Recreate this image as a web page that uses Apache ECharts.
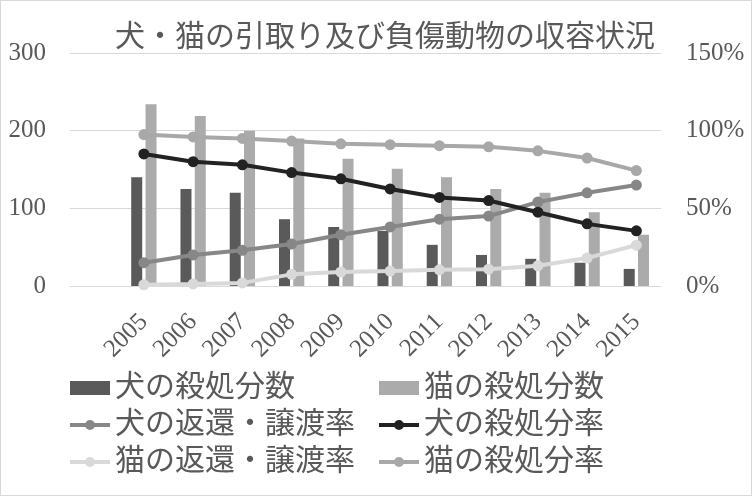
<!DOCTYPE html>
<html>
<head>
<meta charset="utf-8">
<script src="https://cdn.jsdelivr.net/npm/echarts@6/dist/echarts.min.js"></script>
<style>
html,body{margin:0;padding:0;background:#fff;}
#main{width:752px;height:496px;box-sizing:border-box;border:1px solid #d9d9d9;}
</style>
</head>
<body>
<div id="main"></div>
<script>
// 先頭の空カテゴリは元図の左余白ぶん
var years = ['', '2005', '2006', '2007', '2008', '2009', '2010', '2011', '2012', '2013', '2014', '2015'];
var dogKilled = [null, 140, 125, 120, 86, 76, 71, 53, 40, 35, 30, 22];
var catKilled = [null, 234, 219, 200, 190, 164, 151, 140, 125, 120, 95, 66];
var dogReturnRate = [null, 15, 20, 23, 27, 33, 38, 43, 45, 54, 60, 65];
var dogKillRate = [null, 85, 80, 78, 73, 69, 62.5, 57, 55, 47.5, 40, 35.5];
var catReturnRate = [null, 0.8, 1.3, 2, 7.5, 9, 9.6, 10.4, 10.8, 13, 18, 26.3];
var catKillRate = [null, 97.5, 96, 95, 93.3, 91.5, 91, 90.3, 89.6, 87, 82.4, 74.3];

var FONT = "'Liberation Serif', 'Noto Sans CJK JP', serif";
var TXT = '#595959';
/*太線＋丸の凡例アイコン*/
var LINE_ICON = 'path://M0,0 L0.1,0 L0,0.1 Z M0,14 L0.1,14 L0,13.9 Z ' +
    'M0,5 L40,5 L40,9 L0,9 Z M25,7 A5,5 0 1,1 15,7 A5,5 0 1,1 25,7 Z';

var myChart = echarts.init(document.getElementById('main'));

function lineSeries(name, data, color){
    return {
        name: name,
        type: 'line',
        yAxisIndex: 1,
        data: data,
        color: color,
        symbol: 'circle',
        symbolSize: 11,
        lineStyle: {width: 4, color: color},
        itemStyle: {color: color},
        emphasis: {disabled: true}
    };
}

/*凡例は2列*/
function legendCol(left, items){
    return {
        orient: 'vertical',
        left: left,
        top: 372,
        padding: 0,
        itemGap: 7,
        itemWidth: 40,
        itemHeight: 14,
        textStyle: {fontFamily: FONT, fontSize: 30, lineHeight: 30, color: TXT},
        data: items
    };
}

var option = {
    animation: false,
    textStyle: {fontFamily: FONT},
    title: {
        text: '犬・猫の引取り及び負傷動物の収容状況',
        left: 109,
        top: 17,
        textStyle: {fontFamily: FONT, fontSize: 30, fontWeight: 'normal', color: TXT}
    },
    grid: {left: 69, right: 90, top: 52, bottom: 209, containLabel: false},
    legend: [
        legendCol(69, [
            {name: '犬の殺処分数', icon: 'rect'},
            {name: '犬の返還・譲渡率', icon: LINE_ICON},
            {name: '猫の返還・譲渡率', icon: LINE_ICON}
        ]),
        legendCol(378, [
            {name: '猫の殺処分数', icon: 'rect'},
            {name: '犬の殺処分率', icon: LINE_ICON},
            {name: '猫の殺処分率', icon: LINE_ICON}
        ])
    ],
    xAxis: {
        type: 'category',
        data: years,
        axisLine: {show: false},
        axisTick: {show: false},
        axisLabel: {
            rotate: 45,
            interval: 0,
            margin: 32,
            fontFamily: FONT,
            fontSize: 25,
            color: TXT
        }
    },
    yAxis: [
        {
            type: 'value',
            min: 0,
            max: 300,
            interval: 100,
            axisLine: {show: false},
            axisTick: {show: false},
            axisLabel: {margin: 24, fontFamily: FONT, fontSize: 25, color: TXT},
            splitLine: {lineStyle: {color: '#d9d9d9', width: 1}}
        },
        {
            type: 'value',
            min: 0,
            max: 150,
            interval: 50,
            axisLine: {show: false},
            axisTick: {show: false},
            axisLabel: {margin: 25, formatter: '{value}%', fontFamily: FONT, fontSize: 25, color: TXT},
            splitLine: {show: false}
        }
    ],
    series: [
        {
            name: '犬の殺処分数',
            type: 'bar',
            data: dogKilled,
            barWidth: 11,
            barGap: '30%',
            itemStyle: {color: '#5a5a5a'},
            emphasis: {disabled: true}
        },
        {
            name: '猫の殺処分数',
            type: 'bar',
            data: catKilled,
            barWidth: 11,
            barGap: '30%',
            itemStyle: {color: '#ababab'},
            emphasis: {disabled: true}
        },
        lineSeries('犬の返還・譲渡率', dogReturnRate, '#878787'),
        lineSeries('犬の殺処分率', dogKillRate, '#222222'),
        lineSeries('猫の返還・譲渡率', catReturnRate, '#d9d9d9'),
        lineSeries('猫の殺処分率', catKillRate, '#a8a8a8')
    ]
};

myChart.setOption(option, true);
</script>
</body>
</html>
